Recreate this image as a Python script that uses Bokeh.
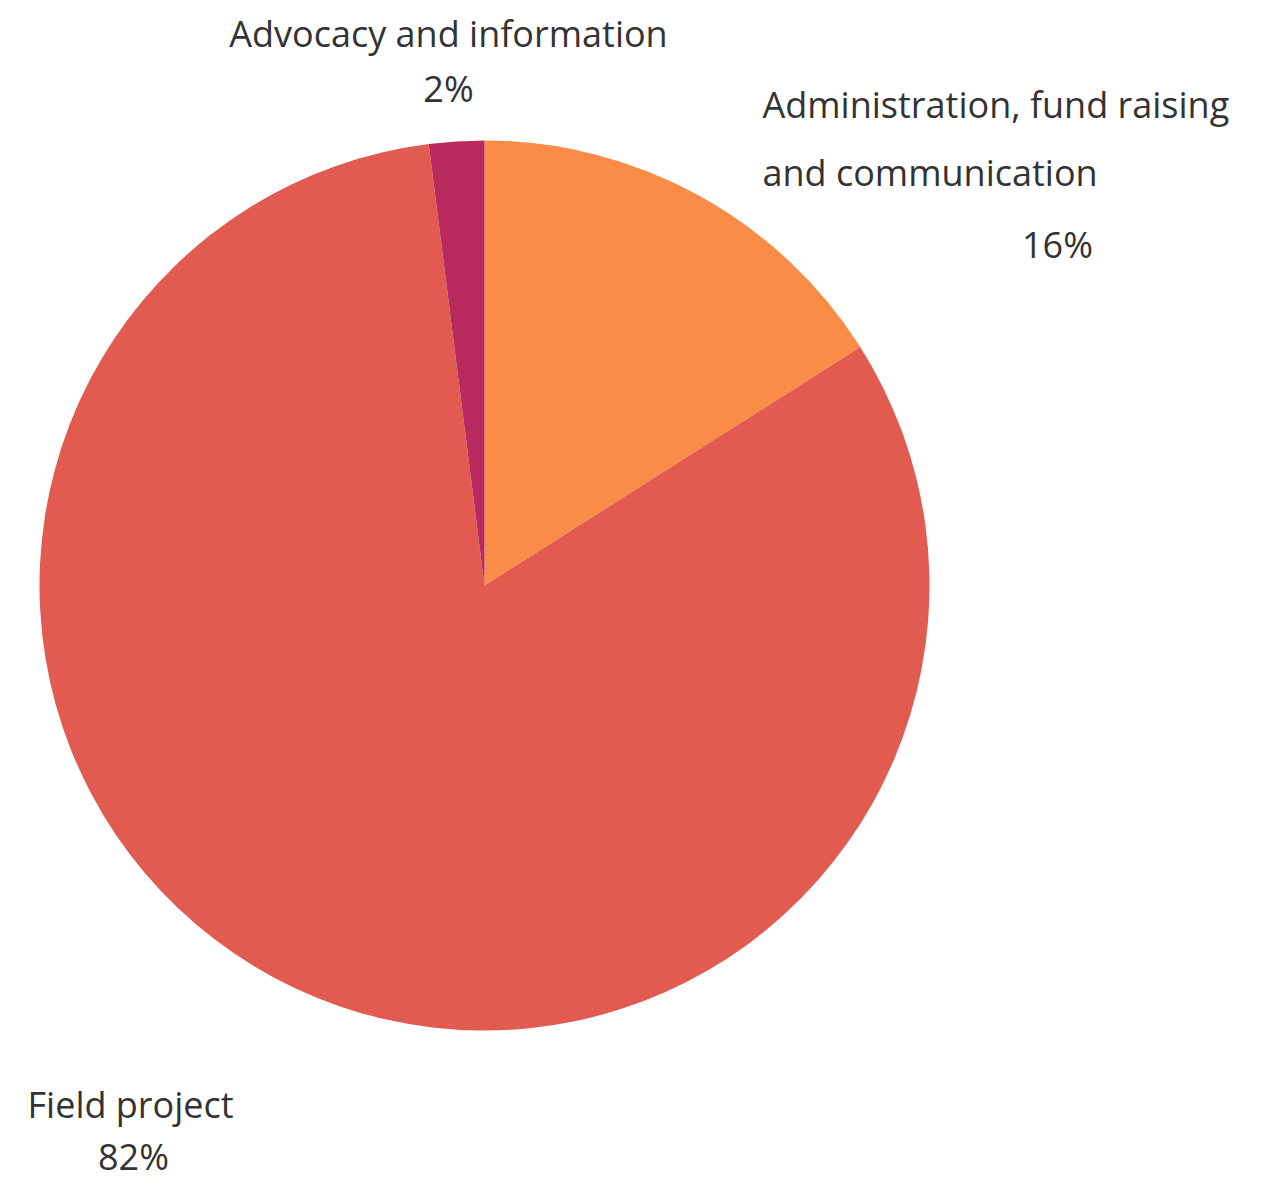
import numpy as np
from bokeh.plotting import figure
from bokeh.models import ColumnDataSource, Range1d
from bokeh.core.properties import value
from bokeh.embed import file_html
from bokeh.resources import INLINE

categories = ["Administration, fund raising and communication", "Field project", "Advocacy and information"]
values = [16, 82, 2]
colors = ["#FB8C47", "#E15B51", "#B82A5E"]
percent_labels = ["16%", "82%", "2%"]

W, H = 1262, 1183
p = figure(width=W, height=H, output_backend="svg", toolbar_location=None,
           x_range=Range1d(0, W), y_range=Range1d(0, H), min_border=0)
p.axis.visible = False
p.grid.visible = False
p.outline_line_color = None
p.background_fill_color = "white"
p.border_fill_color = "white"

cx, cy, r = 484, H - 585, 445
vals = np.array(values, dtype=float)
frac = vals / vals.sum()
cum = np.concatenate([[0], np.cumsum(frac)])
start = np.pi / 2 - 2 * np.pi * cum[:-1]
end = np.pi / 2 - 2 * np.pi * cum[1:]
src = ColumnDataSource(dict(cat=categories, val=values, start=start, end=end, color=colors))
p.wedge(x=cx, y=cy, radius=r, start_angle="start", end_angle="end", direction="clock",
        fill_color="color", line_color=None, source=src)

font = value("Open Sans")
fs = "36px"
col = "#333333"
# label text positions (layout)
lab = ColumnDataSource(dict(
    x=[448, 762, 762, 27],
    y=[H - 33, H - 104, H - 172, H - 1104],
    t=["Advocacy and information", "Administration, fund raising", "and communication", "Field project"],
    align=["center", "left", "left", "left"],
))
p.text(x="x", y="y", text="t", text_align="align", text_baseline="middle",
       text_font=font, text_font_size=fs, text_color=col, source=lab)
pct = ColumnDataSource(dict(
    x=[1057, 133, 448],
    y=[H - 244, H - 1156, H - 88],
    t=percent_labels,
))
p.text(x="x", y="y", text="t", text_align="center", text_baseline="middle",
       text_font=font, text_font_size=fs, text_color=col, source=pct)

open("out.html", "w").write(file_html(p, INLINE))
